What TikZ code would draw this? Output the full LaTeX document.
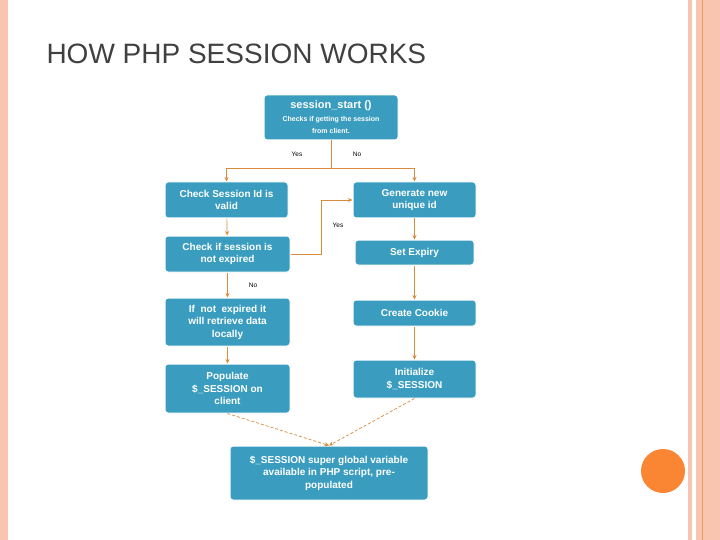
\documentclass[tikz,border=0pt]{standalone}
\usepackage{fontspec}
\setmainfont{Liberation Sans}
\usetikzlibrary{arrows.meta}
\definecolor{boxblue}{HTML}{3A9DC0}
\definecolor{edgeorange}{HTML}{D98A3A}
\definecolor{stripe}{HTML}{F9C4B0}
\definecolor{dot}{HTML}{FA8533}
\begin{document}
\begin{tikzpicture}[x=1pt,y=-1pt]
                \useasboundingbox (0,0) rectangle (720,540);
                \tikzstyle{box}=[rectangle, rounded corners=3pt, fill=boxblue, draw=white, line width=1pt, text=white, font=\bfseries\fontsize{10}{12.5}\selectfont, align=center, inner sep=2pt]
                \tikzstyle{edge}=[edgeorange, line width=0.7pt, -{Stealth[length=4.5pt,width=4pt]}]
                \tikzstyle{lbl}=[font=\fontsize{6.5}{7}\selectfont, text=black]

                % frame
                \fill[stripe] (0,0) rectangle (8,540);
                \fill[stripe] (688,0) rectangle (692,540);
                \fill[stripe] (696,0) rectangle (720,540);
                \draw[edgeorange!80, line width=0.8pt] (702,0) -- (702,540);
                \fill[dot] (663,471) circle (22);
                \node[anchor=base west, font=\fontsize{28}{32}\selectfont, text=black!75] (title) at (43,64) {HOW PHP SESSION WORKS};

                \node[box, minimum width=134pt, minimum height=45pt] (start) at (331,117.5) {\fontsize{11}{13}\selectfont session\_start ()\\\fontsize{7}{8.5}\selectfont Checks if getting the session\\\fontsize{7}{8.5}\selectfont from client.};
                \node[box, minimum width=123pt, minimum height=36pt] (valid) at (226.5,200) {Check Session Id is\\valid};
                \node[box, minimum width=123pt, minimum height=36pt] (gen) at (414.5,200) {Generate new\\unique id};
                \node[box, minimum width=125pt, minimum height=36pt] (expired) at (227.5,254) {Check if session is\\not expired};
                \node[box, minimum width=119pt, minimum height=25pt] (expiry) at (414.5,252.5) {Set Expiry};
                \node[box, minimum width=125pt, minimum height=48pt] (local) at (227.5,322) {If \ not \ expired it\\will retrieve data\\locally};
                \node[box, minimum width=123pt, minimum height=26pt] (cookie) at (414.5,313) {Create Cookie};
                \node[box, minimum width=125pt, minimum height=49pt] (populate) at (227.5,388.5) {Populate\\\$\_SESSION on\\client};
                \node[box, minimum width=123pt, minimum height=38pt] (init) at (414.5,379) {Initialize\\\$\_SESSION};
                \node[box, minimum width=198pt, minimum height=54pt] (global) at (329,473) {\$\_SESSION super global variable\\available in PHP script, pre-\\populated};

                \coordinate (split) at (331,168);
                \draw[edge, -] (start) -- (split);
                \draw[edge] (split) -| (valid);
                \draw[edge] (split) -| (gen);
                \node[lbl] (yes1) at (297,154) {Yes};
                \node[lbl] (no1) at (357,154) {No};
                \draw[edge] (valid) -- (expired);
                \draw[edge] (expired.east) -- (321,254) |- (gen.west);
                \node[lbl] (yes2) at (338,225) {Yes};
                \draw[edge] (expired) -- (local);
                \node[lbl] (no2) at (253,285) {No};
                \draw[edge] (local) -- (populate);
                \draw[edge] (gen) -- (expiry);
                \draw[edge] (expiry) -- (cookie);
                \draw[edge] (cookie) -- (init);
                \draw[edge, densely dashed] (populate.south) -- (global.north);
                \draw[edge, densely dashed] (init.south) -- (global.north);
\end{tikzpicture}
\end{document}
